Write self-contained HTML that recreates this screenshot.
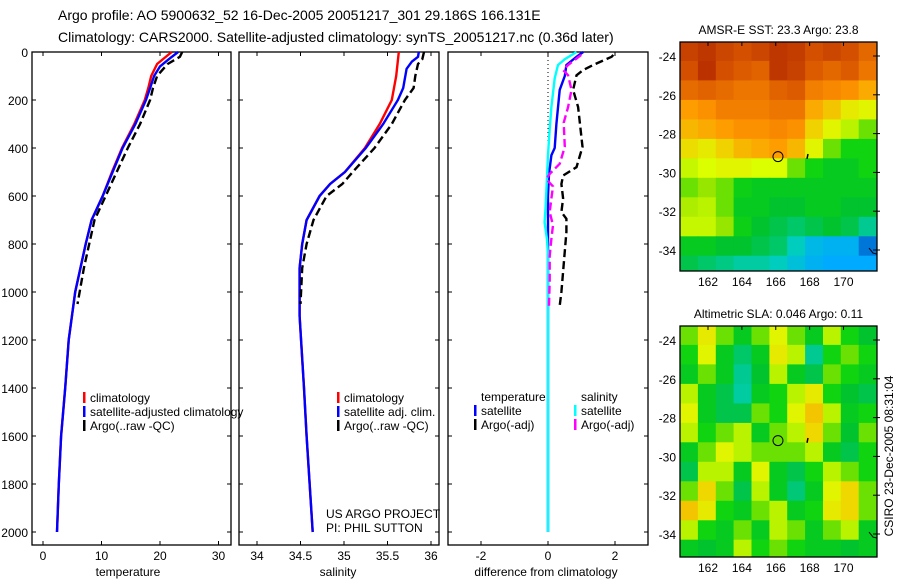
<!DOCTYPE html>
<html><head><meta charset="utf-8"><style>
body{margin:0;background:#fff;}
svg{display:block;font-family:"Liberation Sans",sans-serif;}
text{fill:#000;}
</style></head><body>
<svg id="fig" width="900" height="580" viewBox="0 0 900 580">
<text x="58" y="20" font-size="14">Argo profile: AO 5900632_52 16-Dec-2005 20051217_301 29.186S 166.131E</text>
<text x="58" y="42" font-size="14">Climatology: CARS2000. Satellite-adjusted climatology: synTS_20051217.nc (0.36d later)</text>
<g id="g"></g>
</svg>
<script>
// ---- data ----
const depthTicks=[0,200,400,600,800,1000,1200,1400,1600,1800,2000];
const tempTicks=[0,10,20,30];
const salTicks=[34,34.5,35,35.5,36];
const salTickLabels=['34','34.5','35','35.5','36'];
const diffTicks=[-2,0,2];
const lonTicks=[162,164,166,168,170];
const latTicks=[-24,-26,-28,-30,-32,-34];

const tClimD=[0,50,100,150,200,300,400,500,600,700,800,1000,1200,1400,1600,1800,2000];
const tClimV=[22.0,19.5,18.5,18.0,17.4,15.6,13.5,11.8,10.2,8.3,7.3,5.5,4.4,3.8,3.1,2.7,2.4];
const tSatD=[0,30,60,100,150,200,300,400,500,600,700,800,1000,1200,1400,1600,1800,2000];
const tSatV=[23.1,21.5,20.0,19.0,18.3,17.6,15.8,13.6,11.9,10.2,8.3,7.3,5.5,4.4,3.8,3.1,2.7,2.4];
const tArgoD=[0,20,50,100,150,200,300,400,500,600,700,800,900,1050];
const tArgoV=[23.8,23.4,21.3,19.5,18.8,18.3,16.6,14.5,12.6,10.7,8.8,7.9,7.0,5.9];

const sClimD=[0,100,200,300,400,500,550,600,700,800,900,1100,1400,1600,2000];
const sClimV=[35.63,35.60,35.55,35.41,35.24,35.01,34.84,34.72,34.57,34.52,34.49,34.49,34.54,34.57,34.64];
const sSatD=[0,20,40,70,150,200,300,400,500,550,600,700,800,900,1100,1400,1600,2000];
const sSatV=[35.86,35.85,35.78,35.72,35.68,35.62,35.45,35.25,35.01,34.84,34.72,34.57,34.52,34.49,34.49,34.54,34.57,34.64];
const sArgoD=[0,30,50,100,150,200,300,400,500,550,600,700,800,900,1050];
const sArgoV=[35.92,35.9,35.85,35.82,35.8,35.7,35.55,35.35,35.1,34.98,34.8,34.65,34.57,34.52,34.5];

const dTSatD=[0,20,54,100,158,300,400,430,508,600,2000];
const dTSatV=[1.05,0.85,0.55,0.5,0.35,0.25,0.2,0.1,0.03,0,0];
const dSSatD=[0,30,54,110,229,320,430,640,710,780,850,2000];
const dSSatV=[0.85,0.5,0.3,0.2,0.1,0.05,0,-0.07,-0.1,-0.03,0,0];
const dTArgoD=[12,20,54,75,97,158,229,395,480,515,550,610,667,695,750,830,915,1000,1058];
const dTArgoV=[1.95,1.9,1.35,1.05,0.85,0.75,0.9,1.03,0.85,0.45,0.4,0.45,0.4,0.55,0.55,0.5,0.45,0.4,0.35];
const dSArgoD=[12,54,75,97,158,229,295,395,466,508,530,560,610,667,722,778,850,950,1058];
const dSArgoV=[0.99,0.6,0.45,0.6,0.7,0.6,0.47,0.5,0.35,0.05,-0.05,0.15,0.1,0.05,0.15,0.1,0.05,0.05,0.03];

const sstGrid=[
[0.93,0.95,0.92,0.9,0.92,0.95,0.94,0.9,0.92,0.9,0.85],
[0.9,0.96,0.9,0.88,0.86,0.95,0.93,0.88,0.85,0.88,0.82],
[0.84,0.86,0.84,0.82,0.82,0.86,0.88,0.8,0.78,0.76,0.72],
[0.74,0.76,0.8,0.8,0.8,0.82,0.82,0.72,0.68,0.62,0.6],
[0.7,0.72,0.74,0.76,0.76,0.78,0.76,0.66,0.6,0.55,0.5],
[0.64,0.62,0.66,0.7,0.72,0.74,0.7,0.6,0.5,0.45,0.45],
[0.56,0.58,0.6,0.6,0.58,0.58,0.5,0.45,0.42,0.42,0.45],
[0.5,0.52,0.5,0.44,0.42,0.42,0.42,0.42,0.42,0.42,0.42],
[0.54,0.55,0.5,0.42,0.42,0.4,0.4,0.42,0.42,0.4,0.4],
[0.56,0.56,0.52,0.44,0.4,0.38,0.36,0.38,0.4,0.38,0.33],
[0.42,0.42,0.4,0.4,0.38,0.36,0.3,0.24,0.22,0.22,0.12],
[0.38,0.36,0.34,0.32,0.32,0.3,0.26,0.22,0.2,0.2,0.2]];
const slaGrid=[
[0.5,0.62,0.5,0.42,0.5,0.6,0.5,0.42,0.55,0.45,0.4],
[0.45,0.6,0.42,0.36,0.42,0.62,0.55,0.33,0.45,0.5,0.45],
[0.42,0.5,0.42,0.33,0.4,0.55,0.42,0.38,0.5,0.45,0.42],
[0.55,0.42,0.38,0.32,0.42,0.45,0.55,0.62,0.45,0.4,0.38],
[0.6,0.42,0.38,0.38,0.5,0.45,0.6,0.68,0.55,0.42,0.45],
[0.55,0.45,0.5,0.55,0.42,0.5,0.55,0.65,0.5,0.4,0.5],
[0.42,0.5,0.6,0.55,0.5,0.5,0.5,0.55,0.42,0.38,0.45],
[0.38,0.55,0.55,0.42,0.6,0.42,0.38,0.45,0.55,0.5,0.45],
[0.5,0.65,0.5,0.38,0.55,0.42,0.35,0.42,0.6,0.65,0.5],
[0.68,0.62,0.45,0.42,0.5,0.55,0.42,0.45,0.62,0.65,0.5],
[0.55,0.45,0.42,0.5,0.42,0.55,0.5,0.42,0.5,0.55,0.42],
[0.42,0.4,0.42,0.55,0.45,0.5,0.45,0.42,0.42,0.4,0.42]];
const argoLon=[166.131];
const argoLat=[-29.186];

// ---- helpers ----
const NS='http://www.w3.org/2000/svg';
const G=document.getElementById('g');
function mk(tag,attrs,parent){const e=document.createElementNS(NS,tag);for(const k in attrs)e.setAttribute(k,attrs[k]);(parent||G).appendChild(e);return e;}
function txt(x,y,s,size,anchor,extra){const e=mk('text',Object.assign({x:x,y:y,'font-size':size||12,'text-anchor':anchor||'start'},extra||{}));e.textContent=s;return e;}

const Y0=52,Y1=545;
const yD=d=>52+d*0.24;
const xT=v=>43+v*5.85;
const xS=v=>257+(v-34)*87;
const xDf=v=>548+v*33.5;
const panels=[{x:32,w:199,n:'temperature'},{x:239,w:200,n:'salinity'},{x:448,w:200,n:'difference'}];

panels.forEach((p,i)=>{
  const r=mk('rect',{x:p.x,y:Y0,width:p.w,height:Y1-Y0,fill:'none',stroke:'#000','stroke-width':1.3});
  
  
  depthTicks.forEach(d=>{
    mk('line',{x1:p.x,x2:p.x+4,y1:yD(d),y2:yD(d),stroke:'#000'});
    mk('line',{x1:p.x+p.w-4,x2:p.x+p.w,y1:yD(d),y2:yD(d),stroke:'#000'});
  });
});
depthTicks.forEach(d=>{
  const t=txt(28,yD(d)+5,String(d),12,'end');
  
  
});
function xticks(vals,fx,labels,p){
  vals.forEach((v,i)=>{
    const x=fx(v);
    mk('line',{x1:x,x2:x,y1:Y0,y2:Y0+4,stroke:'#000'});
    mk('line',{x1:x,x2:x,y1:Y1-4,y2:Y1,stroke:'#000'});
    const t=txt(x,560,labels?labels[i]:String(v),12,'middle');
    
    
  });
}
xticks(tempTicks,xT,null,'temperature');
xticks(salTicks,xS,salTickLabels,'salinity');
xticks(diffTicks,xDf,null,'difference');
let t;
t=txt(128,576,'temperature',12,'middle');
t=txt(338,576,'salinity',12,'middle');
t=txt(546,576,'difference from climatology',12,'middle');

function line(D,V,fx,color,dash,name){
  const pts=D.map((d,i)=>fx(V[i]).toFixed(1)+','+yD(d).toFixed(1)).join(' ');
  const e=mk('polyline',{points:pts,fill:'none',stroke:color,'stroke-width':2.4});
  if(dash)e.setAttribute('stroke-dasharray',dash);
  
  
}
line(tClimD,tClimV,xT,'#ff0000',null,'temperature-climatology-line');
line(tSatD,tSatV,xT,'#0000ff',null,'temperature-satellite-line');
line(tArgoD,tArgoV,xT,'#000',"8,4",'temperature-argo-line');
line(sClimD,sClimV,xS,'#ff0000',null,'salinity-climatology-line');
line(sSatD,sSatV,xS,'#0000ff',null,'salinity-satellite-line');
line(sArgoD,sArgoV,xS,'#000',"8,4",'salinity-argo-line');
const z=mk('line',{x1:xDf(0),x2:xDf(0),y1:Y0,y2:yD(2000),stroke:'#000','stroke-dasharray':'1,3'});


line(dTSatD,dTSatV,xDf,'#0000ff',null,'temp-satellite-diff-line');
line(dSSatD,dSSatV,xDf,'#00ffff',null,'sal-satellite-diff-line');
line(dTArgoD,dTArgoV,xDf,'#000',"8,4",'temp-argo-diff-line');
line(dSArgoD,dSArgoV,xDf,'#ff00ff',"8,4",'sal-argo-diff-line');

function legend(x,y,items,name){
  const g=mk('g',{});
  
  
  items.forEach((it,i)=>{
    const yy=y+i*14;
    if(it[1])mk('rect',{x:x,y:yy-10,width:2.5,height:11,fill:it[1]},g);
    const e=txt(x+7,yy,it[0],12,'start');g.appendChild(e);
  });
}
legend(83,402,[['climatology','#ff0000'],['satellite-adjusted climatology','#0000ff'],['Argo(..raw -QC)','#000']],'temperature-legend');
legend(337,402,[['climatology','#ff0000'],['satellite adj. clim.','#0000ff'],['Argo(..raw -QC)','#000']],'salinity-legend');
legend(474,401,[['temperature',null],['satellite','#0000ff'],['Argo(-adj)','#000']],'diff-temperature-legend');
legend(574,401,[['salinity',null],['satellite','#00ffff'],['Argo(-adj)','#ff00ff']],'diff-salinity-legend');
t=txt(326,518,'US ARGO PROJECT',12);
t=txt(326,532,'PI: PHIL SUTTON',12);

// ---- maps ----
const stops=[[0,[0,40,160]],[0.2,[0,170,255]],[0.3,[0,205,190]],[0.4,[0,195,45]],[0.46,[20,215,10]],[0.52,[150,230,0]],[0.58,[220,255,0]],[0.66,[240,210,0]],[0.75,[255,150,0]],[0.88,[220,90,0]],[1,[170,30,0]]];
function cmap(v){for(let i=1;i<stops.length;i++){if(v<=stops[i][0]){const a=stops[i-1],b=stops[i],f=(v-a[0])/(b[0]-a[0]);return 'rgb('+a[1].map((c,k)=>Math.round(c+(b[1][k]-c)*f)).join(',')+')';}}return 'rgb(170,30,0)';}
function map(top,lat24y,grid,title,name){
  const L=680,R=877,B=top+(lat24y===56?229:231);
  const xL=lon=>708+(lon-162)*16.94;
  const yL=lat=>lat24y+(-24-lat)*19.4;
  const g=mk('g',{});
  
  
  const rows=grid.length,cols=grid[0].length;
  const lon0=160.35,lat0=-23.25,dlon=(171.95-160.35)/cols,dlat=(35.3-23.25)/rows;
  const clip='clip-'+name;
  const cp=mk('clipPath',{id:clip},g);mk('rect',{x:L,y:top,width:R-L,height:B-top},cp);
  const cg=mk('g',{'clip-path':'url(#'+clip+')'},g);
  grid.forEach((row,r)=>row.forEach((v,c)=>{
    const x1=xL(lon0+c*dlon),y1=yL(lat0-r*dlat);
    const cell=mk('rect',{x:x1.toFixed(1),y:y1.toFixed(1),width:(dlon*16.94+0.6).toFixed(1),height:(dlat*19.4+0.6).toFixed(1),fill:cmap(v)},cg);
    
    
  }));
  mk('rect',{x:L,y:top,width:R-L,height:B-top,fill:'none',stroke:'#000','stroke-width':1.3},g);
  lonTicks.forEach(v=>{mk('line',{x1:xL(v),x2:xL(v),y1:top,y2:top+4,stroke:'#000'},g);const e=txt(xL(v),B+15,String(v),12,'middle');g.appendChild(e);});
  latTicks.forEach(v=>{mk('line',{x1:R-4,x2:R+3,y1:yL(v),y2:yL(v),stroke:'#000'},g);const e=txt(L-4,yL(v)+5,String(v),12,'end');g.appendChild(e);});
  const tt=txt((L+R)/2,top-8,title,12,'middle');g.appendChild(tt);
  argoLon.forEach((lo,i)=>{const c=mk('circle',{cx:xL(lo),cy:yL(argoLat[i]),r:5,fill:'none',stroke:'#000','stroke-width':1},g);});
  mk('line',{x1:808,x2:807,y1:yL(-29.05),y2:yL(-29.3),stroke:'#000','stroke-width':1.5},g);
  mk('path',{d:'M869 '+(yL(-33.9))+' l4 5 l4 1',fill:'none',stroke:'#000'},g);
}
map(42,56,sstGrid,'AMSR-E SST: 23.3 Argo: 23.8','sst-map');
map(326,340,slaGrid,'Altimetric SLA: 0.046 Argo: 0.11','sla-map');
t=txt(0,0,'CSIRO 23-Dec-2005 08:31:04',12,'middle',{transform:'translate(893,456) rotate(-90)'});


</script>
</body></html>
